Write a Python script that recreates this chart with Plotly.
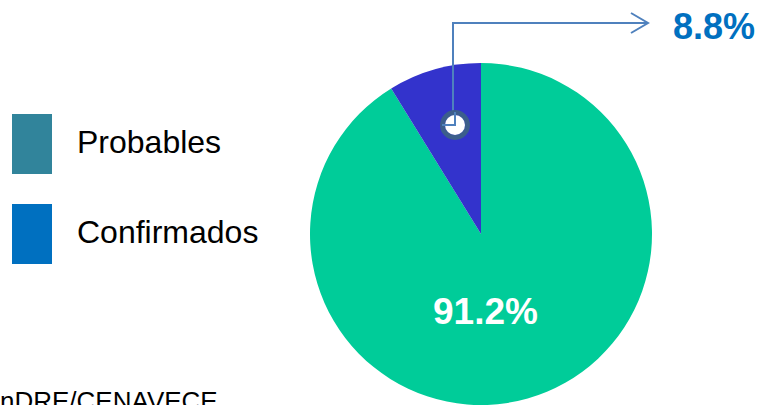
import plotly.graph_objects as go

W, H = 761, 405

# Data
slice_labels = ["Confirmados", "Probables"]
slice_values = [91.2, 8.8]
slice_colors = ["#00CC99", "#3333CC"]
legend_labels = ["Probables", "Confirmados"]
legend_colors = ["#31849B", "#0070C0"]
source_text = "nDRE/CENAVECE"


def px(x):
    return x / W


def py(y):
    return 1 - y / H


fig = go.Figure()

cx, cy, r = 481, 234, 171
fig.add_trace(go.Pie(
    labels=slice_labels,
    values=slice_values,
    marker=dict(colors=slice_colors, line=dict(width=0)),
    sort=False,
    direction="clockwise",
    rotation=0,
    textinfo="none",
    hoverinfo="none",
    showlegend=False,
    domain=dict(x=[px(cx - r), px(cx + r)], y=[py(cy + r), py(cy - r)]),
))

shapes = []
annotations = []

# Legend boxes
leg_y = [(114, 174), (204, 264)]
for (y0, y1), lab, col in zip(leg_y, legend_labels, legend_colors):
    shapes.append(dict(type="rect", xref="paper", yref="paper",
                       x0=px(12), x1=px(52), y0=py(y1), y1=py(y0),
                       fillcolor=col, line=dict(width=0)))
    annotations.append(dict(xref="paper", yref="paper", x=px(75), y=py((y0 + y1) / 2 - 2),
                            xanchor="left", yanchor="middle", showarrow=False,
                            text=lab, font=dict(family="Liberation Sans, Arial", size=32, color="#000000")))

# Callout line for small slice
line_col = "#4F81BD"
shapes.append(dict(type="path", xref="paper", yref="paper",
                   path=f"M {px(442)},{py(125)} L {px(453)},{py(125)} L {px(453)},{py(23)} L {px(648)},{py(23)}",
                   line=dict(color=line_col, width=2)))
shapes.append(dict(type="path", xref="paper", yref="paper",
                   path=f"M {px(631)},{py(13)} L {px(648)},{py(23)} L {px(631)},{py(33)}",
                   line=dict(color=line_col, width=2)))
# Marker circle
shapes.append(dict(type="circle", xref="paper", yref="paper",
                   x0=px(455 - 12.5), x1=px(455 + 12.5), y0=py(125 + 12.5), y1=py(125 - 12.5),
                   fillcolor="rgba(255,255,255,0)", line=dict(color="#3C5E8C", width=5)))
shapes.append(dict(type="circle", xref="paper", yref="paper",
                   x0=px(455 - 10), x1=px(455 + 10), y0=py(125 + 10), y1=py(125 - 10),
                   fillcolor="#FFFFFF", line=dict(width=0)))
shapes.append(dict(type="path", xref="paper", yref="paper",
                   path=f"M {px(442)},{py(125)} L {px(455)},{py(125)} L {px(455)},{py(112)}",
                   line=dict(color=line_col, width=2)))

# Percent labels
annotations.append(dict(xref="paper", yref="paper", x=px(671), y=py(27),
                        xanchor="left", yanchor="middle", showarrow=False,
                        text=f"<b>{slice_values[1]}%</b>",
                        font=dict(family="Liberation Sans, Arial", size=36, color="#0070C0")))
annotations.append(dict(xref="paper", yref="paper", x=px(485), y=py(311),
                        xanchor="center", yanchor="middle", showarrow=False,
                        text=f"<b>{slice_values[0]}%</b>",
                        font=dict(family="Liberation Sans, Arial", size=37, color="#FFFFFF")))

# Source text (clipped at bottom)
annotations.append(dict(xref="paper", yref="paper", x=px(-2), y=py(401),
                        xanchor="left", yanchor="middle", showarrow=False,
                        text=source_text,
                        font=dict(family="Liberation Sans, Arial", size=26, color="#000000")))

fig.update_layout(
    width=W, height=H,
    margin=dict(l=0, r=0, t=0, b=0),
    paper_bgcolor="#FFFFFF",
    plot_bgcolor="#FFFFFF",
    shapes=shapes,
    annotations=annotations,
)

fig.write_html("out.html",
               config={"displayModeBar": False},
               post_script="document.body.style.margin='0';document.body.style.overflow='hidden';")
